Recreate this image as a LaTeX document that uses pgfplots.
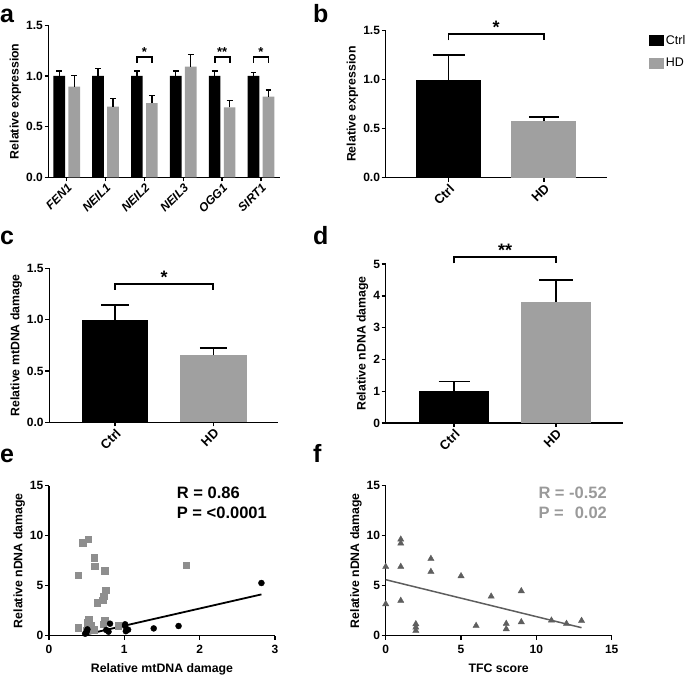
\documentclass[border=0pt]{standalone}
\usepackage{pgfplots}
\pgfplotsset{compat=1.18}
\usepackage{fontspec}
\setmainfont{Liberation Sans}
\definecolor{gpgray}{HTML}{A0A0A0}
\definecolor{sqgray}{HTML}{8E8E8E}
\definecolor{trigray}{HTML}{5E5E5E}
\definecolor{txtgray}{HTML}{9A9A9A}
\newcommand{\tfont}{\fontsize{12}{14}\selectfont\bfseries}
\newcommand{\lfont}{\fontsize{12.3}{14}\selectfont\bfseries}
\newcommand{\cfont}{\fontsize{13}{15}\selectfont\bfseries}
\newcommand{\pfont}{\fontsize{25}{27}\selectfont\bfseries}
\newcommand{\rfont}{\fontsize{16.5}{18}\selectfont\bfseries}
\pgfplotsset{
  gp/.style={
    scale only axis, clip=false,
    axis lines=left, axis line style={-, line width=1.4pt},
    tick align=outside, major tick length=4pt,
    tick style={line width=1.4pt, black},
    ticklabel style={font=\tfont},
    label style={font=\lfont},
    /pgf/number format/assume math mode=true,
    y tick label style={inner sep=1.5pt},
    error bars/error mark=|,
  },
  onedec/.style={y tick label style={/pgf/number format/.cd, fixed, fixed zerofill, precision=1}},
  scat/.style={x tick label style={yshift=-2pt}, xlabel style={yshift=-3pt}},
}
\begin{document}
\begin{tikzpicture}[x=1pt,y=1pt]
\path[use as bounding box] (0pt,0pt) rectangle (685pt,675pt);

% ---------- panel a ----------
\begin{axis}[gp, onedec, at={(48.5pt,497.7pt)}, anchor=south west,
  width=231.5pt, height=152pt,
  xmin=-0.468, xmax=5.49, ymin=0, ymax=1.5, ytick={0,0.5,1,1.5},
  xtick={0,1,2,3,4,5}, xticklabels={FEN1,NEIL1,NEIL2,NEIL3,OGG1,SIRT1},
  xticklabel style={rotate=45, anchor=north east, font=\tfont\itshape, inner sep=1pt},
  ylabel={Relative expression},
  ybar, bar width=11.7pt]
\addplot[fill=black, draw=none, bar shift=-7.5pt,
  error bars/.cd, y dir=plus, y explicit, error mark=|,
  error bar style={line width=1.3pt, black},
  error mark options={line width=1.3pt, mark size=2.9pt, black}]
  coordinates {(0,1.0) +- (0,0.05) (1,1.0) +- (0,0.076) (2,1.0) +- (0,0.05)
               (3,1.0) +- (0,0.05) (4,1.0) +- (0,0.05) (5,1.0) +- (0,0.036)};
\addplot[fill=gpgray, draw=none, bar shift=7.5pt,
  error bars/.cd, y dir=plus, y explicit, error mark=|,
  error bar style={line width=1.3pt, black},
  error mark options={line width=1.3pt, mark size=2.9pt, black}]
  coordinates {(0,0.894) +- (0,0.113) (1,0.697) +- (0,0.079) (2,0.733) +- (0,0.077)
               (3,1.092) +- (0,0.118) (4,0.69) +- (0,0.07) (5,0.796) +- (0,0.066)};
\draw[line width=1.8pt] ([xshift=-7.5pt]axis cs:2,1.13) -- ([xshift=-7.5pt]axis cs:2,1.19)
   -- ([xshift=7.5pt]axis cs:2,1.19) -- ([xshift=7.5pt]axis cs:2,1.13);
\node[anchor=base, inner sep=0pt, font=\fontsize{13}{14}\selectfont\bfseries] at (axis cs:2,1.196) {*};
\draw[line width=1.8pt] ([xshift=-7.5pt]axis cs:4,1.13) -- ([xshift=-7.5pt]axis cs:4,1.19)
   -- ([xshift=7.5pt]axis cs:4,1.19) -- ([xshift=7.5pt]axis cs:4,1.13);
\node[anchor=base, inner sep=0pt, font=\fontsize{13}{14}\selectfont\bfseries] at (axis cs:4,1.196) {**};
\draw[line width=1.8pt] ([xshift=-7.5pt]axis cs:5,1.13) -- ([xshift=-7.5pt]axis cs:5,1.19)
   -- ([xshift=7.5pt]axis cs:5,1.19) -- ([xshift=7.5pt]axis cs:5,1.13);
\node[anchor=base, inner sep=0pt, font=\fontsize{13}{14}\selectfont\bfseries] at (axis cs:5,1.196) {*};
\end{axis}

% ---------- panel b ----------
\begin{axis}[gp, onedec, at={(385.7pt,497.3pt)}, anchor=south west,
  width=221pt, height=147pt,
  xmin=-0.66, xmax=1.66, ymin=0, ymax=1.5, ytick={0,0.5,1,1.5},
  xtick={0,1}, xticklabels={Ctrl,HD},
  xticklabel style={rotate=45, anchor=north east, font=\cfont, inner sep=1pt},
  ylabel={Relative expression},
  ybar, bar width=65pt,
  legend image code/.code={\fill[#1] (0pt,-5.3pt) rectangle (15pt,5.3pt);},
  legend style={at={(rel axis cs:1.19,0.985)}, anchor=north west, draw=none, fill=none,
     font=\fontsize{12.5}{14}\selectfont, inner sep=0pt, row sep=8.5pt,
     /tikz/every even column/.append style={column sep=2pt}},
  legend cell align=left]
\addplot[fill=black, draw=none, bar shift=0pt, forget plot,
  error bars/.cd, y dir=plus, y explicit, error mark=|,
  error bar style={line width=1.4pt, black},
  error mark options={line width=1.4pt, mark size=16pt, black}]
  coordinates {(0,1.0) +- (0,0.25)};
\addplot[fill=gpgray, draw=none, bar shift=0pt, forget plot,
  error bars/.cd, y dir=plus, y explicit, error mark=|,
  error bar style={line width=1.4pt, black},
  error mark options={line width=1.4pt, mark size=15pt, black}]
  coordinates {(1,0.578) +- (0,0.04)};
\addlegendimage{fill=black, draw=none}
\addlegendentry{Ctrl}
\addlegendimage{fill=gpgray, draw=none}
\addlegendentry{HD}
\draw[line width=1.8pt] (axis cs:0,1.40) -- (axis cs:0,1.47) -- (axis cs:1,1.47) -- (axis cs:1,1.40);
\node[anchor=base, inner sep=0pt, font=\fontsize{18}{19}\selectfont\bfseries] at (axis cs:0.5,1.475) {*};
\end{axis}

% ---------- panel c ----------
\begin{axis}[gp, onedec, at={(49.3pt,252.7pt)}, anchor=south west,
  width=229pt, height=154pt,
  xmin=-0.668, xmax=1.66, ymin=0, ymax=1.5, ytick={0,0.5,1,1.5},
  xtick={0,1}, xticklabels={Ctrl,HD},
  xticklabel style={rotate=45, anchor=north east, font=\cfont, inner sep=1pt},
  ylabel={Relative mtDNA damage},
  ybar, bar width=66.5pt]
\addplot[fill=black, draw=none, bar shift=0pt,
  error bars/.cd, y dir=plus, y explicit, error mark=|,
  error bar style={line width=1.4pt, black},
  error mark options={line width=1.4pt, mark size=14pt, black}]
  coordinates {(0,1.0) +- (0,0.143)};
\addplot[fill=gpgray, draw=none, bar shift=0pt,
  error bars/.cd, y dir=plus, y explicit, error mark=|,
  error bar style={line width=1.4pt, black},
  error mark options={line width=1.4pt, mark size=13.5pt, black}]
  coordinates {(1,0.655) +- (0,0.068)};
\draw[line width=1.8pt] (axis cs:0,1.29) -- (axis cs:0,1.344) -- (axis cs:1,1.344) -- (axis cs:1,1.29);
\node[anchor=base, inner sep=0pt, font=\fontsize{18}{19}\selectfont\bfseries] at (axis cs:0.5,1.35) {*};
\end{axis}

% ---------- panel d ----------
\begin{axis}[gp, at={(385.7pt,252pt)}, anchor=south west,
  width=237.6pt, height=159pt,
  xmin=-0.67, xmax=1.66, ymin=0, ymax=5, ytick={0,1,2,3,4,5},
  xtick={0,1}, xticklabels={Ctrl,HD},
  xticklabel style={rotate=45, anchor=north east, font=\cfont, inner sep=1pt},
  ylabel={Relative nDNA damage},
  ybar, bar width=69.5pt]
\addplot[fill=black, draw=none, bar shift=0pt,
  error bars/.cd, y dir=plus, y explicit, error mark=|,
  error bar style={line width=1.4pt, black},
  error mark options={line width=1.4pt, mark size=15.5pt, black}]
  coordinates {(0,1.0) +- (0,0.30)};
\addplot[fill=gpgray, draw=none, bar shift=0pt,
  error bars/.cd, y dir=plus, y explicit, error mark=|,
  error bar style={line width=1.4pt, black},
  error mark options={line width=1.4pt, mark size=17pt, black}]
  coordinates {(1,3.81) +- (0,0.69)};
\draw[line width=1.8pt] (axis cs:0,5.02) -- (axis cs:0,5.21) -- (axis cs:1,5.21) -- (axis cs:1,5.02);
\node[anchor=base, inner sep=0pt, font=\fontsize{18}{19}\selectfont\bfseries] at (axis cs:0.5,5.25) {**};
\end{axis}

% ---------- panel e ----------
\begin{axis}[gp, scat, at={(49pt,39.3pt)}, anchor=south west,
  width=226pt, height=150pt,
  xmin=0, xmax=3, ymin=0, ymax=15, xtick={0,1,2,3}, ytick={0,5,10,15},
  xlabel={Relative mtDNA damage}, ylabel={Relative nDNA damage}]
\addplot[only marks, mark=square*, mark size=3.3pt, color=sqgray] coordinates {
  (0.39,6.07) (0.45,9.3) (0.52,9.65) (0.60,7.8) (0.61,6.95) (0.74,6.5)
  (0.75,4.57) (0.73,3.97) (0.71,3.57) (0.64,3.3) (0.39,0.83) (0.53,1.63)
  (0.51,1.3) (0.59,0.63) (0.74,1.57) (0.72,1.17) (0.92,1.03) (1.82,7.05)
  (0.55,1.0) (0.50,0.55)};
\addplot[only marks, mark=*, mark size=3pt, color=black] coordinates {
  (0.48,0.2) (0.50,0.4) (0.51,0.63) (0.76,0.57) (0.79,0.4) (0.81,1.2)
  (1.01,1.14) (1.01,0.97) (1.02,0.45) (1.05,0.6) (1.39,0.73) (1.72,0.97) (2.82,5.27)};
\addplot[black, line width=1.8pt, no marks] coordinates {(0.46,0.07) (2.82,4.13)};
\end{axis}
\node[anchor=base west, inner sep=0pt, font=\rfont] at (176.7pt,176.7pt) {R = 0.86};
\node[anchor=base west, inner sep=0pt, font=\rfont] at (176.7pt,156.7pt) {P = <0.0001};

% ---------- panel f ----------
\begin{axis}[gp, scat, at={(385.7pt,39.3pt)}, anchor=south west,
  width=226pt, height=150pt,
  xmin=0, xmax=15, ymin=0, ymax=15, xtick={0,5,10,15}, ytick={0,5,10,15},
  xlabel={TFC score}, ylabel={Relative nDNA damage}]
\addplot[only marks, mark=triangle*, mark size=3.6pt, color=trigray] coordinates {
  (0,6.9) (0,3.17) (1,9.63) (1,9.23) (1,6.9) (1,3.5) (2,1.17) (2,0.83) (2,0.5)
  (3,7.7) (3,6.4) (5,5.97) (6,1.0) (7,3.93) (8,1.2) (8,0.67) (9,4.47) (9,1.37)
  (11,1.53) (12,1.2) (13,1.5)};
\addplot[trigray, line width=1.5pt, no marks] coordinates {(0,5.6) (13,0.8)};
\end{axis}
\node[anchor=base west, inner sep=0pt, font=\rfont, text=txtgray] at (538.3pt,176.7pt) {R = -0.52};
\node[anchor=base west, inner sep=0pt, font=\rfont, text=txtgray] at (538.3pt,156.7pt) {P =\hspace{6.5pt} 0.02};

% ---------- panel letters ----------
\node[anchor=base west, inner sep=0pt, font=\pfont] at (0pt,652pt) {a};
\node[anchor=base west, inner sep=0pt, font=\pfont] at (313pt,652pt) {b};
\node[anchor=base west, inner sep=0pt, font=\pfont] at (0pt,430pt) {c};
\node[anchor=base west, inner sep=0pt, font=\pfont] at (313pt,430pt) {d};
\node[anchor=base west, inner sep=0pt, font=\pfont] at (0pt,212pt) {e};
\node[anchor=base west, inner sep=0pt, font=\pfont] at (313pt,212pt) {f};
\end{tikzpicture}
\end{document}
